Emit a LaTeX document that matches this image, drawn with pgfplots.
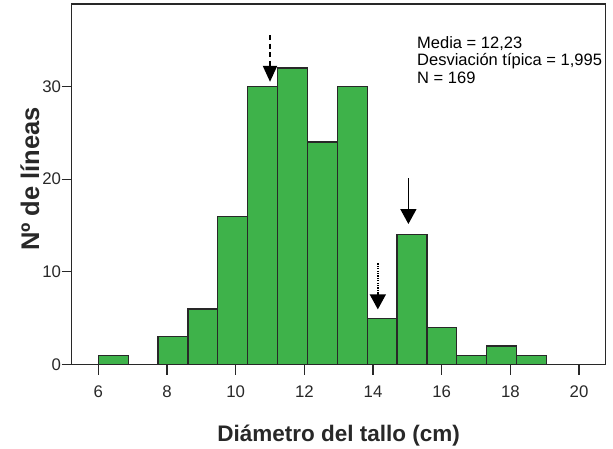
\documentclass[border=0pt]{standalone}
\usepackage{pgfplots}
\pgfplotsset{compat=1.18}
\usepackage{fontspec}
\setmainfont{Liberation Sans}
\usetikzlibrary{arrows.meta}
\definecolor{barg}{RGB}{62,178,74}
\definecolor{axc}{RGB}{40,40,40}
\begin{document}
\begin{tikzpicture}
\useasboundingbox (-71.7pt,-83.5pt) rectangle (541.3pt,364.5pt);
\begin{axis}[
  at={(0,0)}, anchor=south west,
  scale only axis, width=533.8pt, height=360.5pt,
  xmin=5.225, xmax=20.77, ymin=0, ymax=38.9,
  axis line style={axc, line width=1.4pt},
  xtick={6,8,...,20}, ytick={0,10,20,30},
  tick pos=left,
  major tick length=10pt,
  tick style={axc, line width=1.3pt},
  tick align=outside,
  /pgf/number format/assume math mode=true,
  ticklabel style={font=\fontsize{16.8}{18}\selectfont, text=axc},
  yticklabel style={inner sep=0.5pt},
  xticklabel style={inner sep=2pt, yshift=-9pt},
  xlabel={Diámetro del tallo (cm)},
  ylabel={Nº de líneas},
  xlabel style={at={(axis description cs:0.5,-0.2122)}, anchor=base, font=\bfseries\fontsize{22.5}{24}\selectfont, text=axc},
  ylabel style={at={(axis description cs:-0.0781,0.515)}, anchor=center, font=\bfseries\fontsize{25.5}{27}\selectfont, text=axc},
  clip=false,
]
\addplot[ybar interval, fill=barg, draw=axc, line width=1.3pt] coordinates {
(6.00,1) (6.87,0) (7.74,3) (8.61,6) (9.48,16) (10.35,30) (11.22,32) (12.09,24)
(12.96,30) (13.83,5) (14.70,14) (15.57,4) (16.44,1) (17.31,2) (18.18,1) (19.05,1)
};
\draw[black, line width=2pt, dash pattern=on 5pt off 3.5pt] (axis cs:11.0,35.55) -- (axis cs:11.0,32.3);
\draw[black, line width=2pt, -{Triangle[length=16pt,width=14pt]}] (axis cs:11.0,32.4) -- (axis cs:11.0,30.5);
\draw[black, line width=1.6pt, -{Triangle[length=15pt,width=16pt]}] (axis cs:15.03,20.09) -- (axis cs:15.03,15.16);
\draw[black, line width=1.5pt, dash pattern=on 1.2pt off 1.2pt] (axis cs:14.14,10.9) -- (axis cs:14.14,7.7);
\draw[black, line width=1.5pt, -{Triangle[length=15pt,width=16pt]}] (axis cs:14.14,7.75) -- (axis cs:14.14,5.95);
\node[anchor=base west, font=\fontsize{16.5}{18}\selectfont, inner sep=0pt] at (rel axis cs:0.6469,0.8771) {Media = 12,23};
\node[anchor=base west, font=\fontsize{16.5}{18}\selectfont, inner sep=0pt] at (rel axis cs:0.6469,0.8289) {Desviación típica = 1,995};
\node[anchor=base west, font=\fontsize{16.5}{18}\selectfont, inner sep=0pt] at (rel axis cs:0.6469,0.7800) {N = 169};
\end{axis}
\end{tikzpicture}
\end{document}
